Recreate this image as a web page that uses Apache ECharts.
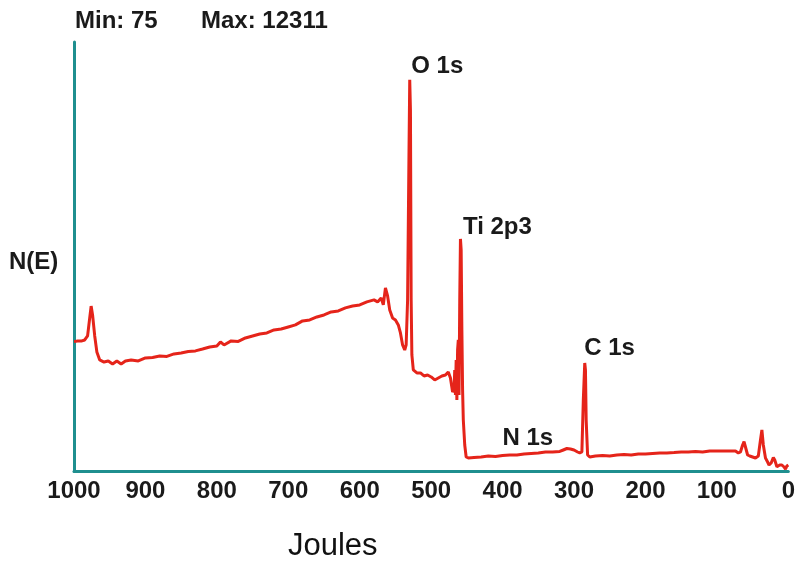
<!DOCTYPE html>
<html>
<head>
<meta charset="utf-8">
<script src="https://cdn.jsdelivr.net/npm/echarts@6/dist/echarts.min.js"></script>
<style>
html,body{margin:0;padding:0;background:#fff;}
#c{width:798px;height:564px;}
</style>
</head>
<body>
<div id="c"></div>
<script>
// Binding energy (x) and intensity N(E) (y)
const energy = [1000,995,990,985,981,978,976,974,971,968,964,958,952,946,940,934,928,920,910,900,890,880,870,860,850,840,830,820,810,800,795,790,780,770,760,750,740,730,720,710,700,690,680,670,660,650,640,630,620,610,600,590,580,575,570,567,564,561,558,554,550,546,543,540,537,535,533,531,530,529,528,527,525,520,515,510,505,500,495,490,485,480,476,473,470,468,467,466,465,464,463,462,461,460,459,458,457,456,455,453,451,448,440,430,420,410,400,390,380,370,360,350,340,330,320,315,310,305,300,295,292,289,287,285,284,283,281,278,270,260,250,240,230,220,210,200,190,180,170,160,150,140,130,120,110,100,90,80,74,70,67,64,62,60,57,54,50,46,42,39,37,35,32,29,27,24,21,19,16,12,9,6,4,2,0];
const intensity = [4082,4100,4100,4135,4260,4830,5200,4920,4260,3760,3506,3440,3475,3380,3475,3380,3475,3506,3475,3570,3585,3630,3616,3695,3726,3773,3790,3852,3915,3946,4073,3978,4104,4088,4198,4261,4324,4355,4450,4481,4544,4607,4733,4764,4858,4921,5016,5047,5142,5204,5236,5330,5393,5330,5456,5236,5770,5519,5079,4827,4764,4607,4355,3978,3820,3978,5393,10110,12311,11368,5393,3664,3192,3097,3097,3003,3034,2972,2877,2940,3003,3034,3129,2940,2500,2563,3192,2406,3506,2248,3820,4135,2406,5393,7311,6965,4450,2563,1619,833,456,425,440,456,487,472,503,519,519,550,566,582,613,613,629,676,723,708,676,613,582,613,2248,3412,3192,1619,519,456,487,503,487,519,535,519,550,550,566,582,582,597,613,613,629,613,645,645,645,645,645,582,613,833,937,770,519,487,456,425,487,990,1305,833,425,299,204,267,440,362,151,204,204,142,75,173,204];
// Peak annotations: [label, energy, intensity]
const peakNames = ['O 1s','Ti 2p3','C 1s','N 1s'];
const peakEnergy = [530,459,285,398];
const peakValue = [12311,7311,3412,503];
const xTicks = [1000,900,800,700,600,500,400,300,200,100,0];

const FONT = '"Liberation Sans", Arial, sans-serif';
const minV = Math.min.apply(null, intensity);
const maxV = Math.max.apply(null, intensity);
const labelOffsets = [[1,-13],[2,-12],[-1,-15],[-2,-17]];

const chart = echarts.init(document.getElementById('c'));
chart.setOption({
  animation:false,
  backgroundColor:'#fff',
  grid:{left:74,right:4,top:42,bottom:92.5,containLabel:false},
  xAxis:{
    type:'value',min:0,max:1000,interval:100,inverse:true,
    axisLine:{show:true,onZero:false,lineStyle:{color:'#1f8f8f',width:3}},
    axisTick:{show:false},splitLine:{show:false},
    axisLabel:{color:'#1a1a1a',fontWeight:'bold',fontSize:24,fontFamily:FONT,margin:8,
      formatter:v=>xTicks.indexOf(v)>=0?String(v):''}
  },
  yAxis:{
    type:'value',min:0,max:13500,position:'left',
    axisLine:{show:true,onZero:false,lineStyle:{color:'#1f8f8f',width:3}},
    axisTick:{show:false},splitLine:{show:false},axisLabel:{show:false}
  },
  series:[{
    type:'line',
    data:energy.map((e,i)=>[e,intensity[i]]),
    showSymbol:false,symbol:'none',
    lineStyle:{color:'#e5241a',width:3},
    markPoint:{
      symbol:'circle',symbolSize:1,
      itemStyle:{color:'rgba(0,0,0,0)'},
      data:peakNames.map((n,i)=>({
        name:n,coord:[peakEnergy[i],peakValue[i]],
        label:{show:true,position:'right',distance:0,offset:labelOffsets[i],
          formatter:n,color:'#1a1a1a',fontWeight:'bold',fontSize:24,fontFamily:FONT}
      }))
    }
  }],
  graphic:[
    {type:'text',left:75,top:9,style:{text:'Min: '+minV,fill:'#1a1a1a',font:'bold 24px '+FONT}},
    {type:'text',left:201,top:9,style:{text:'Max: '+maxV,fill:'#1a1a1a',font:'bold 24px '+FONT}},
    {type:'text',left:9,top:250,style:{text:'N(E)',fill:'#1a1a1a',font:'bold 24px '+FONT}},
    {type:'text',left:288,top:531,style:{text:'Joules',fill:'#111',font:'31px '+FONT}}
  ]
});
</script>
</body>
</html>
